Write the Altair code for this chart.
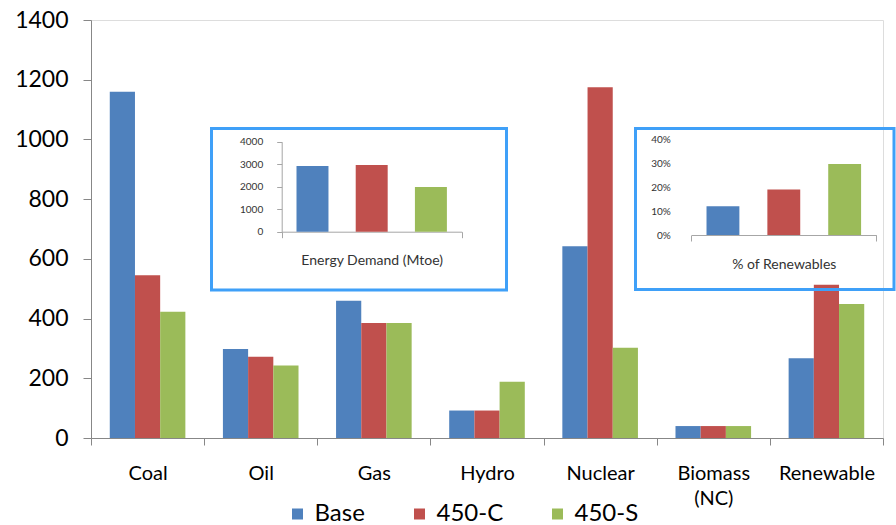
import altair as alt
import pandas as pd

# ---- data -------------------------------------------------------------
categories = ["Coal", "Oil", "Gas", "Hydro", "Nuclear", "Biomass (NC)", "Renewable"]
series = ["Base", "450-C", "450-S"]
series_colors = ["#4F81BD", "#C0504D", "#9BBB59"]

base_values = [1160, 298, 460, 92, 642, 40, 267]
c450_values = [545, 272, 385, 92, 1175, 40, 513]
s450_values = [423, 243, 385, 188, 302, 40, 449]
y_ticks = [0, 200, 400, 600, 800, 1000, 1200, 1400]

demand_label = "Energy Demand (Mtoe)"
demand_values = [2920, 2960, 1990]
demand_ticks = [0, 1000, 2000, 3000, 4000]

renew_label = "% of Renewables"
renew_values = [0.12, 0.19, 0.296]
renew_ticks = [0, 0.1, 0.2, 0.3, 0.4]

# ---- layout (pixels) --------------------------------------------------
PAD_LEFT, PAD_TOP = 91, 20
W, H = 792, 418
FONT = "Lato"
AXIS_GREY = "#878787"
INSET_GREY = "#A6A6A6"
FRAME_BLUE = "#3FA0F8"

# inset plot boxes, in plot coordinates: (x_left, x_right, y_zero, y_top)
demand_box = (190.7, 370.7, 211.7, 121.7)
renew_box = (600.3, 785.3, 215.0, 119.0)

main_df = pd.DataFrame({
    "category": categories * 3,
    "series": [s for s in series for _ in categories],
    "value": base_values + c450_values + s450_values,
})
demand_df = pd.DataFrame({"measure": [demand_label] * 3, "series": series, "value": demand_values})
renew_df = pd.DataFrame({"measure": [renew_label] * 3, "series": series, "value": renew_values})

legend = alt.Legend(
    title=None, orient="none", direction="horizontal", legendX=194.5, legendY=482,
    symbolType="square", symbolSize=121, symbolStrokeWidth=0, labelFont=FONT,
    labelFontSize=24, labelColor="#000000", labelOffset=5, columnPadding=42, padding=0,
)
color = alt.Color("series:N", sort=series,
                  scale=alt.Scale(domain=series, range=series_colors), legend=legend)

main = alt.Chart(main_df).mark_bar().encode(
    x=alt.X("category:N", sort=categories,
            scale=alt.Scale(paddingInner=0, paddingOuter=0),
            axis=alt.Axis(title=None, labelAngle=0, tickBand="extent", domainColor=AXIS_GREY,
                          tickColor=AXIS_GREY, tickSize=7, labelFont=FONT, labelFontSize=20,
                          labelColor="#000000", labelPadding=18, labelLineHeight=25,
                          labelExpr="datum.label == 'Biomass (NC)' ? ['Biomass', '(NC)'] : datum.label")),
    xOffset=alt.XOffset("series:N", sort=series,
                        scale=alt.Scale(paddingInner=0, paddingOuter=0.745)),
    y=alt.Y("value:Q", scale=alt.Scale(domain=[0, 1400], nice=False),
            axis=alt.Axis(title=None, values=y_ticks, format="d", grid=False,
                          domainColor=AXIS_GREY, tickColor=AXIS_GREY, tickSize=8,
                          labelFont=FONT, labelFontSize=23, labelColor="#000000",
                          labelPadding=15)),
    color=color,
)


def inset(df, box, ticks, domain_max, fmt, show_y_line):
    x_left, x_right, y_zero, y_top = box
    return alt.Chart(df).mark_bar().encode(
        x=alt.X("measure:N",
                scale=alt.Scale(range=[x_left, x_right], paddingInner=0, paddingOuter=0),
                axis=alt.Axis(title=None, orient="bottom", offset=y_zero - H, labelAngle=0,
                              tickBand="extent", domainColor=INSET_GREY, tickColor=INSET_GREY,
                              tickSize=6, labelFont=FONT, labelFontSize=14,
                              labelColor="#333333", labelPadding=16)),
        xOffset=alt.XOffset("series:N", sort=series,
                            scale=alt.Scale(paddingInner=0.46, paddingOuter=0.25)),
        y=alt.Y("value:Q",
                scale=alt.Scale(domain=[0, domain_max], range=[y_zero, y_top], nice=False),
                axis=alt.Axis(title=None, orient="left", offset=-x_left, values=ticks, format=fmt,
                              grid=False, domain=show_y_line, ticks=show_y_line,
                              domainColor=INSET_GREY, tickColor=INSET_GREY, tickSize=5,
                              labelFont=FONT, labelFontSize=10, labelColor="#333333",
                              labelPadding=14 if show_y_line else 21)),
        color=color,
    )


demand_inset = inset(demand_df, demand_box, demand_ticks, 4000, "d", True)
renew_inset = inset(renew_df, renew_box, renew_ticks, 0.4, ".0%", False)

frame_src = pd.DataFrame({"frame": [0]})


def frame(x, x2, y, y2):
    return alt.Chart(frame_src).mark_rect(filled=False, stroke=FRAME_BLUE, strokeWidth=3).encode(
        x=alt.value(x), x2=alt.value(x2), y=alt.value(y), y2=alt.value(y2)
    )


chart = alt.layer(
    main,
    frame(120.5, 415.5, 108.5, 270.0),
    frame(544.5, 803.0, 108.5, 269.5),
    demand_inset,
    renew_inset,
).resolve_scale(
    x="independent", y="independent", xOffset="independent"
).resolve_axis(
    x="independent", y="independent"
).properties(
    width=W, height=H,
    padding={"left": PAD_LEFT, "top": PAD_TOP, "right": 896 - PAD_LEFT - W, "bottom": 525 - PAD_TOP - H},
    autosize=alt.AutoSizeParams(type="none"),
).configure_view(stroke=None).configure(background="white")

chart.save("out.html", embed_options={"renderer": "svg", "actions": False})
